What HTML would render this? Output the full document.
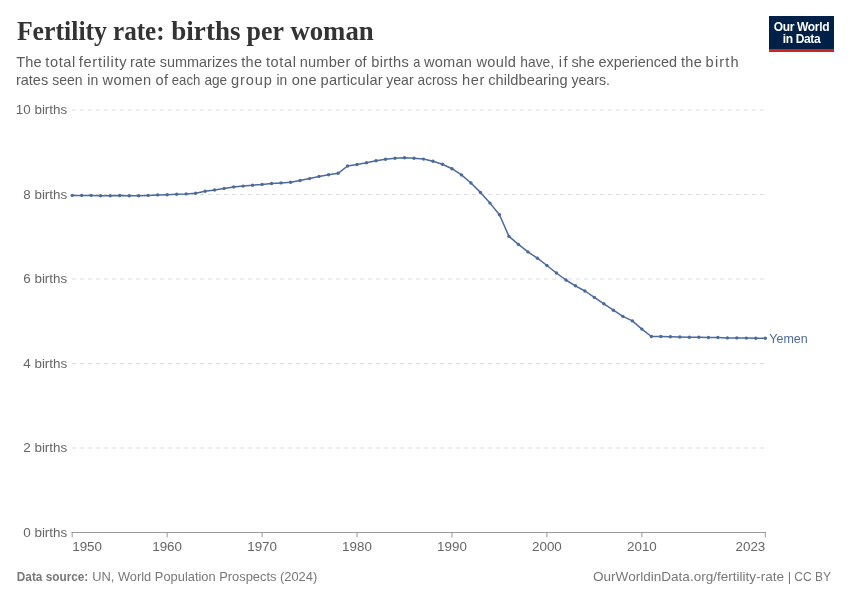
<!DOCTYPE html>
<html><head><meta charset="utf-8"><title>Fertility rate: births per woman</title>
<style>
html,body{margin:0;padding:0;background:#fff;}
body{width:850px;height:600px;overflow:hidden;}
svg{display:block;will-change:transform;font-family:"Liberation Sans",sans-serif;}
.t{font-family:"Liberation Serif",serif;font-weight:bold;fill:#333;}
.s{fill:#5b5b5b;}
.ax text{fill:#666;font-size:13.4px;}
.f{fill:#787878;}
</style></head><body>
<svg width="850" height="600" viewBox="0 0 850 600">
<rect width="850" height="600" fill="#fff"/>
<g class="t" font-size="27"><text x="16.9" y="40.4" textLength="90.1" lengthAdjust="spacingAndGlyphs">Fertility</text><text x="113.0" y="40.4" textLength="51.6" lengthAdjust="spacingAndGlyphs">rate:</text><text x="171.3" y="40.4" textLength="69.2" lengthAdjust="spacingAndGlyphs">births</text><text x="246.6" y="40.4" textLength="37.4" lengthAdjust="spacingAndGlyphs">per</text><text x="290.4" y="40.4" textLength="83.3" lengthAdjust="spacingAndGlyphs">woman</text></g>
<g class="s" font-size="14.6"><text x="16.2" y="66.8" textLength="25.3" lengthAdjust="spacing">The</text><text x="45.3" y="66.8" textLength="30.0" lengthAdjust="spacing">total</text><text x="78.8" y="66.8" textLength="47.7" lengthAdjust="spacing">fertility</text><text x="130.0" y="66.8" textLength="25.9" lengthAdjust="spacing">rate</text><text x="159.7" y="66.8" textLength="77.9" lengthAdjust="spacingAndGlyphs">summarizes</text><text x="241.2" y="66.8" textLength="20.9" lengthAdjust="spacing">the</text><text x="265.9" y="66.8" textLength="30.0" lengthAdjust="spacing">total</text><text x="299.7" y="66.8" textLength="50.6" lengthAdjust="spacing">number</text><text x="354.4" y="66.8" textLength="12.1" lengthAdjust="spacingAndGlyphs">of</text><text x="371.2" y="66.8" textLength="37.6" lengthAdjust="spacing">births</text><text x="413.2" y="66.8" textLength="7.1" lengthAdjust="spacingAndGlyphs">a</text><text x="424.1" y="66.8" textLength="47.7" lengthAdjust="spacing">woman</text><text x="476.4" y="66.8" textLength="39.5" lengthAdjust="spacing">would</text><text x="520.3" y="66.8" textLength="33.8" lengthAdjust="spacingAndGlyphs">have,</text><text x="558.8" y="66.8" textLength="8.8" lengthAdjust="spacing">if</text><text x="571.4" y="66.8" textLength="23.3" lengthAdjust="spacingAndGlyphs">she</text><text x="598.5" y="66.8" textLength="78.6" lengthAdjust="spacingAndGlyphs">experienced</text><text x="680.9" y="66.8" textLength="20.9" lengthAdjust="spacing">the</text><text x="705.6" y="66.8" textLength="33.1" lengthAdjust="spacing">birth</text><text x="15.9" y="85.0" textLength="32.3" lengthAdjust="spacingAndGlyphs">rates</text><text x="52.3" y="85.0" textLength="30.3" lengthAdjust="spacingAndGlyphs">seen</text><text x="87.3" y="85.0" textLength="10.9" lengthAdjust="spacingAndGlyphs">in</text><text x="102.6" y="85.0" textLength="48.6" lengthAdjust="spacing">women</text><text x="155.6" y="85.0" textLength="12.4" lengthAdjust="spacing">of</text><text x="171.8" y="85.0" textLength="28.5" lengthAdjust="spacingAndGlyphs">each</text><text x="204.4" y="85.0" textLength="22.7" lengthAdjust="spacingAndGlyphs">age</text><text x="230.9" y="85.0" textLength="40.9" lengthAdjust="spacing">group</text><text x="276.4" y="85.0" textLength="10.7" lengthAdjust="spacingAndGlyphs">in</text><text x="291.8" y="85.0" textLength="24.7" lengthAdjust="spacing">one</text><text x="320.6" y="85.0" textLength="62.0" lengthAdjust="spacing">particular</text><text x="386.2" y="85.0" textLength="27.4" lengthAdjust="spacingAndGlyphs">year</text><text x="417.6" y="85.0" textLength="40.0" lengthAdjust="spacingAndGlyphs">across</text><text x="461.9" y="85.0" textLength="22.5" lengthAdjust="spacing">her</text><text x="488.2" y="85.0" textLength="79.4" lengthAdjust="spacing">childbearing</text><text x="571.4" y="85.0" textLength="38.6" lengthAdjust="spacingAndGlyphs">years.</text></g>
<g transform="translate(769,16)">
<rect width="65" height="36" fill="#002147"/>
<rect y="33" width="65" height="3" fill="#ce261e"/>
<text x="32.5" y="14.9" text-anchor="middle" font-size="12" font-weight="bold" fill="#fff" letter-spacing="-0.35">Our World</text>
<text x="32.5" y="27" text-anchor="middle" font-size="12" font-weight="bold" fill="#fff" letter-spacing="-0.35">in Data</text>
</g>
<g stroke="#ddd" stroke-width="1" stroke-dasharray="4,4" fill="none"><line x1="72" x2="765.5" y1="110.0" y2="110.0"/><line x1="72" x2="765.5" y1="194.5" y2="194.5"/><line x1="72" x2="765.5" y1="279.0" y2="279.0"/><line x1="72" x2="765.5" y1="363.5" y2="363.5"/><line x1="72" x2="765.5" y1="448.0" y2="448.0"/></g>
<g class="ax"><text x="67.2" y="114" text-anchor="end">10 births</text><text x="67.2" y="199" text-anchor="end">8 births</text><text x="67.2" y="283" text-anchor="end">6 births</text><text x="67.2" y="368" text-anchor="end">4 births</text><text x="67.2" y="452" text-anchor="end">2 births</text><text x="67.2" y="537" text-anchor="end">0 births</text><text x="72.2" y="551.0" text-anchor="start">1950</text><text x="167.1" y="551.0" text-anchor="middle">1960</text><text x="262.1" y="551.0" text-anchor="middle">1970</text><text x="357.0" y="551.0" text-anchor="middle">1980</text><text x="452.0" y="551.0" text-anchor="middle">1990</text><text x="546.9" y="551.0" text-anchor="middle">2000</text><text x="641.9" y="551.0" text-anchor="middle">2010</text><text x="765.3" y="551.0" text-anchor="end">2023</text></g>
<g stroke="#999" stroke-width="1" fill="none"><line x1="71.6" x2="765.8" y1="532.5" y2="532.5"/><line x1="72.20" x2="72.20" y1="532" y2="537.4"/><line x1="167.15" x2="167.15" y1="532" y2="537.4"/><line x1="262.09" x2="262.09" y1="532" y2="537.4"/><line x1="357.04" x2="357.04" y1="532" y2="537.4"/><line x1="451.98" x2="451.98" y1="532" y2="537.4"/><line x1="546.93" x2="546.93" y1="532" y2="537.4"/><line x1="641.87" x2="641.87" y1="532" y2="537.4"/><line x1="765.30" x2="765.30" y1="532" y2="537.4"/></g>
<path d="M72.20,195.40 L81.69,195.40 L91.19,195.40 L100.68,195.70 L110.18,195.70 L119.67,195.50 L129.17,195.80 L138.66,195.80 L148.16,195.40 L157.65,194.90 L167.15,194.70 L176.64,194.30 L186.13,193.90 L195.63,193.20 L205.12,191.30 L214.62,190.00 L224.11,188.40 L233.61,186.90 L243.10,186.10 L252.60,185.20 L262.09,184.40 L271.58,183.50 L281.08,182.90 L290.57,182.20 L300.07,180.50 L309.56,178.60 L319.06,176.40 L328.55,174.70 L338.05,173.30 L347.54,166.00 L357.04,164.50 L366.53,162.70 L376.02,160.80 L385.52,159.30 L395.01,158.20 L404.51,157.80 L414.00,158.20 L423.50,159.10 L432.99,161.20 L442.49,164.20 L451.98,168.70 L461.48,174.90 L470.97,183.00 L480.46,192.40 L489.96,203.10 L499.45,214.70 L508.95,236.40 L518.44,244.40 L527.94,251.90 L537.43,258.20 L546.93,265.50 L556.42,273.00 L565.92,280.00 L575.41,285.80 L584.90,291.00 L594.40,297.40 L603.89,303.80 L613.39,310.20 L622.88,316.40 L632.38,320.90 L641.87,329.10 L651.37,336.50 L660.86,336.50 L670.35,336.80 L679.85,337.00 L689.34,337.20 L698.84,337.20 L708.33,337.50 L717.83,337.50 L727.32,337.90 L736.82,337.90 L746.31,338.10 L755.81,338.30 L765.30,338.30" fill="none" stroke="#4c6a9c" stroke-width="1.5" stroke-linejoin="round"/>
<g fill="#4c6a9c"><circle cx="72.20" cy="195.40" r="1.7"/><circle cx="81.69" cy="195.40" r="1.7"/><circle cx="91.19" cy="195.40" r="1.7"/><circle cx="100.68" cy="195.70" r="1.7"/><circle cx="110.18" cy="195.70" r="1.7"/><circle cx="119.67" cy="195.50" r="1.7"/><circle cx="129.17" cy="195.80" r="1.7"/><circle cx="138.66" cy="195.80" r="1.7"/><circle cx="148.16" cy="195.40" r="1.7"/><circle cx="157.65" cy="194.90" r="1.7"/><circle cx="167.15" cy="194.70" r="1.7"/><circle cx="176.64" cy="194.30" r="1.7"/><circle cx="186.13" cy="193.90" r="1.7"/><circle cx="195.63" cy="193.20" r="1.7"/><circle cx="205.12" cy="191.30" r="1.7"/><circle cx="214.62" cy="190.00" r="1.7"/><circle cx="224.11" cy="188.40" r="1.7"/><circle cx="233.61" cy="186.90" r="1.7"/><circle cx="243.10" cy="186.10" r="1.7"/><circle cx="252.60" cy="185.20" r="1.7"/><circle cx="262.09" cy="184.40" r="1.7"/><circle cx="271.58" cy="183.50" r="1.7"/><circle cx="281.08" cy="182.90" r="1.7"/><circle cx="290.57" cy="182.20" r="1.7"/><circle cx="300.07" cy="180.50" r="1.7"/><circle cx="309.56" cy="178.60" r="1.7"/><circle cx="319.06" cy="176.40" r="1.7"/><circle cx="328.55" cy="174.70" r="1.7"/><circle cx="338.05" cy="173.30" r="1.7"/><circle cx="347.54" cy="166.00" r="1.7"/><circle cx="357.04" cy="164.50" r="1.7"/><circle cx="366.53" cy="162.70" r="1.7"/><circle cx="376.02" cy="160.80" r="1.7"/><circle cx="385.52" cy="159.30" r="1.7"/><circle cx="395.01" cy="158.20" r="1.7"/><circle cx="404.51" cy="157.80" r="1.7"/><circle cx="414.00" cy="158.20" r="1.7"/><circle cx="423.50" cy="159.10" r="1.7"/><circle cx="432.99" cy="161.20" r="1.7"/><circle cx="442.49" cy="164.20" r="1.7"/><circle cx="451.98" cy="168.70" r="1.7"/><circle cx="461.48" cy="174.90" r="1.7"/><circle cx="470.97" cy="183.00" r="1.7"/><circle cx="480.46" cy="192.40" r="1.7"/><circle cx="489.96" cy="203.10" r="1.7"/><circle cx="499.45" cy="214.70" r="1.7"/><circle cx="508.95" cy="236.40" r="1.7"/><circle cx="518.44" cy="244.40" r="1.7"/><circle cx="527.94" cy="251.90" r="1.7"/><circle cx="537.43" cy="258.20" r="1.7"/><circle cx="546.93" cy="265.50" r="1.7"/><circle cx="556.42" cy="273.00" r="1.7"/><circle cx="565.92" cy="280.00" r="1.7"/><circle cx="575.41" cy="285.80" r="1.7"/><circle cx="584.90" cy="291.00" r="1.7"/><circle cx="594.40" cy="297.40" r="1.7"/><circle cx="603.89" cy="303.80" r="1.7"/><circle cx="613.39" cy="310.20" r="1.7"/><circle cx="622.88" cy="316.40" r="1.7"/><circle cx="632.38" cy="320.90" r="1.7"/><circle cx="641.87" cy="329.10" r="1.7"/><circle cx="651.37" cy="336.50" r="1.7"/><circle cx="660.86" cy="336.50" r="1.7"/><circle cx="670.35" cy="336.80" r="1.7"/><circle cx="679.85" cy="337.00" r="1.7"/><circle cx="689.34" cy="337.20" r="1.7"/><circle cx="698.84" cy="337.20" r="1.7"/><circle cx="708.33" cy="337.50" r="1.7"/><circle cx="717.83" cy="337.50" r="1.7"/><circle cx="727.32" cy="337.90" r="1.7"/><circle cx="736.82" cy="337.90" r="1.7"/><circle cx="746.31" cy="338.10" r="1.7"/><circle cx="755.81" cy="338.30" r="1.7"/><circle cx="765.30" cy="338.30" r="1.7"/></g>
<text x="769.3" y="342.8" font-size="12.8" fill="#4c6a9c" textLength="38.3" lengthAdjust="spacingAndGlyphs">Yemen</text>
<text class="f" x="16.8" y="581" font-size="12.8" font-weight="bold" textLength="71.5" lengthAdjust="spacingAndGlyphs">Data source:</text><text class="f" x="92.2" y="581" font-size="12.8" textLength="225" lengthAdjust="spacingAndGlyphs">UN, World Population Prospects (2024)</text>
<text class="f" x="593" y="581" font-size="13.2" textLength="191" lengthAdjust="spacingAndGlyphs">OurWorldinData.org/fertility-rate</text><text class="f" x="789.5" y="581" font-size="13.2" text-anchor="middle">|</text><text class="f" x="794.2" y="581" font-size="13.2" textLength="36.8" lengthAdjust="spacingAndGlyphs">CC BY</text>
</svg>
</body></html>
